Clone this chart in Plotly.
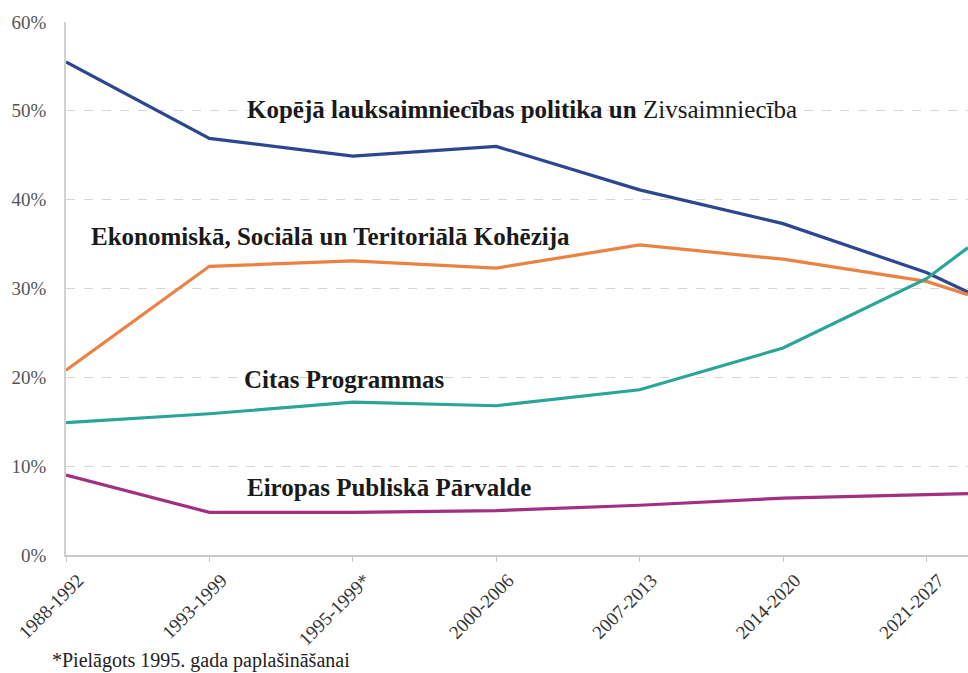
import plotly.graph_objects as go

categories = ["1988-1992", "1993-1999", "1995-1999*", "2000-2006", "2007-2013", "2014-2020", "2021-2027"]
# positions of the points along the category axis; the last point sits at the cropped right edge
x_pos = [0, 1, 2, 3, 4, 5, 6, 6.29]

cap = [55.5, 46.9, 44.9, 46.0, 41.1, 37.3, 31.8, 29.6]
cohesion = [20.8, 32.5, 33.1, 32.3, 34.9, 33.3, 30.8, 29.3]
other = [14.9, 15.9, 17.2, 16.8, 18.6, 23.3, 31.1, 34.6]
admin = [9.0, 4.8, 4.8, 5.0, 5.6, 6.4, 6.8, 6.9]

y_ticks = [0, 10, 20, 30, 40, 50, 60]
y_labels = ["0%", "10%", "20%", "30%", "40%", "50%", "60%"]

series = [
    ("Kopējā lauksaimniecības politika un Zivsaimniecība", cap, "#2c4690"),
    ("Ekonomiskā, Sociālā un Teritoriālā Kohēzija", cohesion, "#ea8243"),
    ("Citas Programmas", other, "#2aa597"),
    ("Eiropas Publiskā Pārvalde", admin, "#a23082"),
]

serif = "Liberation Serif"

fig = go.Figure()
for name, vals, col in series:
    fig.add_trace(go.Scatter(x=x_pos, y=vals, mode="lines", name=name,
                             line=dict(color=col, width=3.2)))

ann_font = dict(family=serif, size=25, color="#1a1a1a")
fig.add_annotation(x=1.25, y=50.2, xref="x", yref="y", xanchor="left", yanchor="middle",
                   text="<b>Kopējā lauksaimniecības politika un</b> Zivsaimniecība",
                   showarrow=False, font=ann_font)
fig.add_annotation(x=0.16, y=35.8, xref="x", yref="y", xanchor="left", yanchor="middle",
                   text="<b>Ekonomiskā, Sociālā un Teritoriālā Kohēzija</b>",
                   showarrow=False, font=ann_font)
fig.add_annotation(x=1.23, y=19.8, xref="x", yref="y", xanchor="left", yanchor="middle",
                   text="<b>Citas Programmas</b>",
                   showarrow=False, font=ann_font)
fig.add_annotation(x=1.25, y=7.6, xref="x", yref="y", xanchor="left", yanchor="middle",
                   text="<b>Eiropas Publiskā Pārvalde</b>",
                   showarrow=False, font=ann_font)
fig.add_annotation(x=-0.018, y=-0.198, xref="paper", yref="paper",
                   text="*Pielāgots 1995. gada paplašināšanai",
                   showarrow=False, font=dict(family=serif, size=20, color="#222222"),
                   xanchor="left", yanchor="middle")

fig.update_layout(
    width=968, height=673,
    font=dict(family=serif, size=17, color="#444444"),
    margin=dict(l=66, r=0, t=22, b=118, autoexpand=False),
    plot_bgcolor="white", paper_bgcolor="white",
    showlegend=False,
    xaxis=dict(
        range=[0, x_pos[-1]],
        tickmode="array", tickvals=list(range(len(categories))), ticktext=categories,
        tickangle=-45, tickfont=dict(family=serif, size=19, color="#333333"),
        ticklabelshift=12,
        showgrid=False, zeroline=False, automargin=False,
        showline=True, linecolor="#c8c8c8", linewidth=1.5,
        ticks="outside", ticklen=5, tickcolor="#c8c8c8",
    ),
    yaxis=dict(
        range=[0, 60],
        tickmode="array", tickvals=y_ticks, ticktext=y_labels,
        tickfont=dict(family=serif, size=19, color="#555555"),
        showgrid=True, gridcolor="#d6d6d6", griddash="dash", gridwidth=1,
        zeroline=False, automargin=False,
        showline=True, linecolor="#d0d0d0", linewidth=1.5,
        ticks="", ticklabelstandoff=14,
    ),
)

fig.write_html("out.html", config={"displayModeBar": False},
               post_script="document.body.style.margin='0';")
